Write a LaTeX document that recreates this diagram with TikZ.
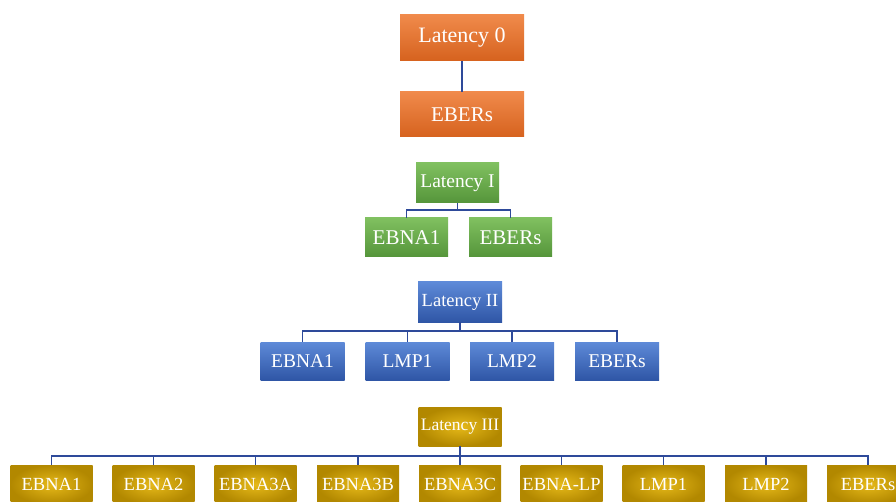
\documentclass[tikz,border=0pt]{standalone}
\usepackage{fontspec}
\setmainfont{Liberation Serif}
\definecolor{orT}{HTML}{F08A4B}
\definecolor{orB}{HTML}{D6621E}
\definecolor{grT}{HTML}{80C060}
\definecolor{grB}{HTML}{55953A}
\definecolor{blT}{HTML}{5E8AD8}
\definecolor{blB}{HTML}{2F56A6}
\definecolor{gdI}{HTML}{E6B919}
\definecolor{gdO}{HTML}{B28800}
\definecolor{conn}{HTML}{2E4A9A}
\tikzset{
  box/.style={rectangle, inner sep=0pt, text=white, align=center},
  orbox/.style={box, top color=orT, bottom color=orB, minimum width=124pt, minimum height=45pt},
  grbox/.style={box, top color=grT, bottom color=grB, minimum width=83pt, minimum height=39pt},
  blbox/.style={box, top color=blT, bottom color=blB, minimum width=84pt, minimum height=38pt},
  gdbox/.style={box, inner color=gdI, outer color=gdO, minimum width=82pt, minimum height=39pt},
  link/.style={draw=conn, line width=1.6pt},
  fA/.style={font=\fontsize{22}{22}\selectfont},
  fB/.style={font=\fontsize{21}{21}\selectfont},
  fC/.style={font=\fontsize{19.5}{19.5}\selectfont},
  fD/.style={font=\fontsize{18.5}{18.5}\selectfont},
  fE/.style={font=\fontsize{17.5}{17.5}\selectfont},
}
\begin{document}
\begin{tikzpicture}[x=1pt,y=-1pt]
\useasboundingbox (0,0) rectangle (896,502);
\clip (0,0) rectangle (896,502);
\fill[white] (0,0) rectangle (896,502);
% Latency 0
\node[orbox,fA,minimum height=46pt] (L0) at (462,38) {Latency 0};
\node[orbox,fB] (E0) at (462,114.5) {EBERs};
\draw[link] (L0.south) -- (E0.north);
% Latency I
\node[grbox,fC,minimum height=40pt] (L1) at (457.5,183) {Latency I};
\coordinate (b1) at (0,210);
\node[grbox,fB] (L1a) at (406.5,237.5) {EBNA1};
\node[grbox,fB] (L1b) at (510.5,237.5) {EBERs};
\foreach \c in {L1a,L1b}{\draw[link] (L1.south) -- (L1.south |- b1) -| (\c.north);}
% Latency II
\node[blbox,fD,minimum height=40pt] (L2) at (460,302) {Latency II};
\coordinate (b2) at (0,331);
\node[blbox,fC] (L2a) at (302.5,361) {EBNA1};
\node[blbox,fC] (L2b) at (407.5,361) {LMP1};
\node[blbox,fC] (L2c) at (512,361) {LMP2};
\node[blbox,fC] (L2d) at (617,361) {EBERs};
\foreach \c in {L2a,L2b,L2c,L2d}{\draw[link] (L2.south) -- (L2.south |- b2) -| (\c.north);}
% Latency III
\node[gdbox,fE,minimum width=83pt] (L3) at (460,426.5) {Latency III};
\coordinate (b3) at (0,456);
\node[gdbox,fD] (L3a) at (51.5,484.5) {EBNA1};
\node[gdbox,fD] (L3b) at (153.5,484.5) {EBNA2};
\node[gdbox,fD] (L3c) at (255.5,484.5) {EBNA3A};
\node[gdbox,fD] (L3d) at (358,484.5) {EBNA3B};
\node[gdbox,fD] (L3e) at (460,484.5) {EBNA3C};
\node[gdbox,fD] (L3f) at (561.5,484.5) {EBNA-LP};
\node[gdbox,fD] (L3g) at (663.5,484.5) {LMP1};
\node[gdbox,fD] (L3h) at (766,484.5) {LMP2};
\node[gdbox,fD] (L3i) at (868,484.5) {EBERs};
\foreach \c in {L3a,L3b,L3c,L3d,L3e,L3f,L3g,L3h,L3i}{\draw[link] (L3.south) -- (L3.south |- b3) -| (\c.north);}
\end{tikzpicture}
\end{document}
